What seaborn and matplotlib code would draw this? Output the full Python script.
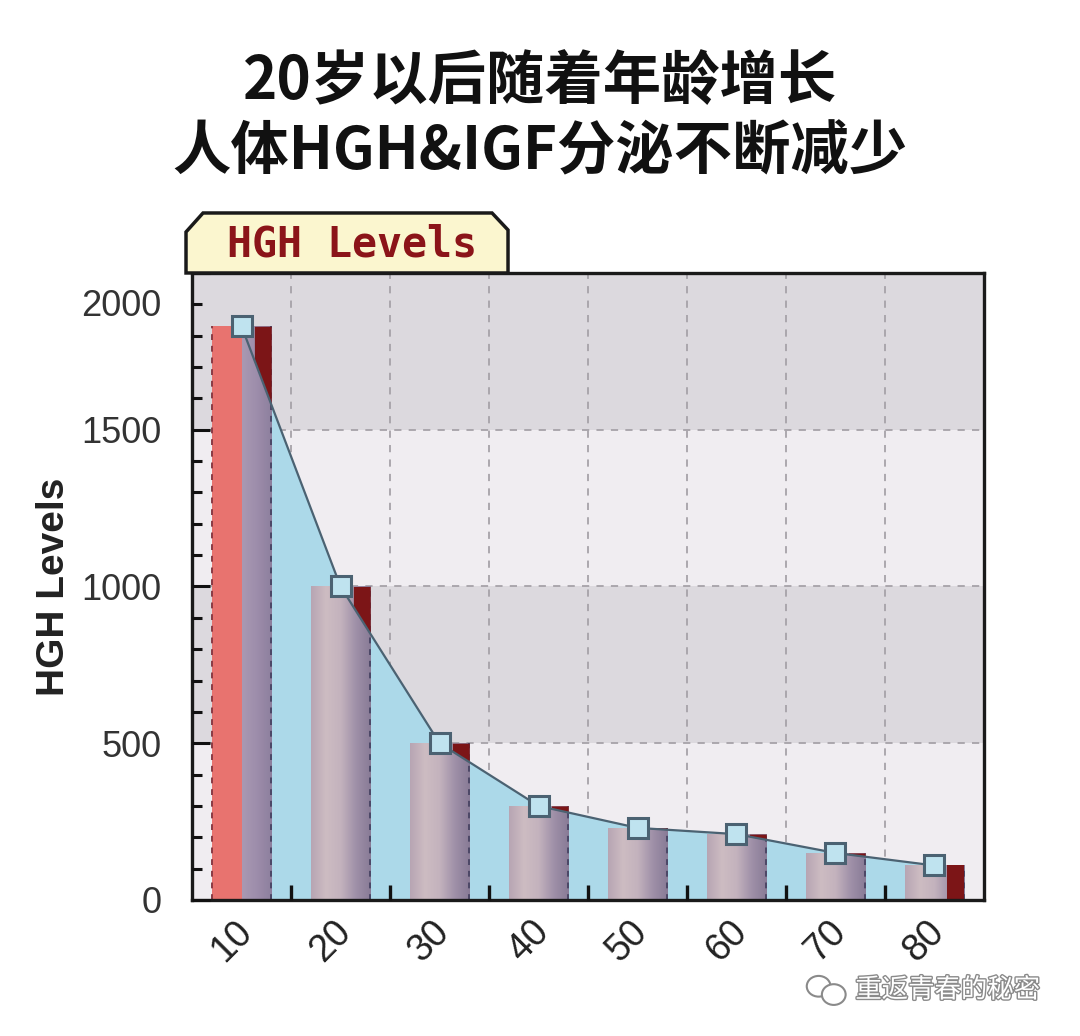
import numpy as np
import matplotlib
matplotlib.use("Agg")
import matplotlib.pyplot as plt
import matplotlib.transforms as mtransforms
import matplotlib.patheffects as pe
from matplotlib.colors import LinearSegmentedColormap
from matplotlib.patches import Polygon, Rectangle, Ellipse
from matplotlib.ticker import MultipleLocator
import seaborn as sns

# data
ages = ['10', '20', '30', '40', '50', '60', '70', '80']
hgh = [1830, 1000, 500, 300, 230, 210, 150, 110]
young_hgh = 1830  # red bar in the age 10 group
yticks = [0, 500, 1000, 1500, 2000]

title_lines = ['20岁以后随着年龄增长', '人体HGH&IGF分泌不断减少']
tab_text = 'HGH Levels'
ylabel = 'HGH Levels'
watermark = '重返青春的秘密'

sns.set_theme(style='white')
plt.rcParams['font.family'] = ['Liberation Sans', 'DejaVu Sans']

fig = plt.figure(figsize=(10.8, 10.36), dpi=100)
ax = fig.add_axes([0.1778, 0.1313, 0.7333, 0.6052])
pos = np.arange(len(ages))

# alternating grey bands
for i, (lo, hi) in enumerate(zip(yticks[:-1], yticks[1:])):
    ax.axhspan(lo, hi, color='#dcd9de' if i % 2 else '#f0edf1', lw=0, zorder=0)

# dashed grid under everything
grid_kw = dict(colors='#a6a2a8', linestyles=(0, (4, 4)), lw=1.3, zorder=0.5)
ax.vlines(pos[:-1] + 0.5, yticks[0], yticks[-1], **grid_kw)
ax.hlines(yticks[1:-1], -0.5, len(ages) - 0.5, **grid_kw)

# light blue area under the trend line
ax.fill_between(pos, hgh, color='#acd9e9', lw=0, zorder=1)

n_before = len(ax.patches)
sns.barplot(x=ages, y=hgh, width=0.6, color='#b8a8b8', saturation=1,
            errorbar=None, edgecolor='none', zorder=2, ax=ax)
bars = ax.patches[n_before:]

# the age 10 group holds a red bar and a narrow grey one
b0 = bars[0]
half = b0.get_width() / 2
red = Rectangle((b0.get_x(), 0), half, young_hgh, facecolor='#e8736f',
                edgecolor='none', zorder=2)
ax.add_patch(red)
b0.set_x(b0.get_x() + half)
b0.set_width(half)

# cylinder-like shading on the grey bars
grad = np.linspace(0, 1, 256).reshape(1, -1)
cmap_main = LinearSegmentedColormap.from_list(
    'bar', ['#b7a5b3', '#cdbcc2', '#c3b2bd', '#9f90a8', '#887b96'])
cmap_first = LinearSegmentedColormap.from_list(
    'bar0', ['#a999b2', '#9d8dab', '#8d7f9d'])
for i, b in enumerate(bars):
    x, w, h = b.get_x(), b.get_width(), b.get_height()
    im = ax.imshow(grad, extent=[x, x + w, 0, h], aspect='auto',
                   cmap=cmap_first if i == 0 else cmap_main,
                   interpolation='bicubic', zorder=2.1)
    im.set_clip_path(b)
    ax.vlines(x + w, 0, h, colors='#4c4766', linestyles=(0, (3, 3)),
              lw=1.4, zorder=2.2)
ax.vlines(red.get_x(), 0, young_hgh, colors='#8a3a44',
          linestyles=(0, (3, 3)), lw=1.4, zorder=2.2)

# dark red back face visible above the trend line
for b in bars:
    xr = b.get_x() + b.get_width()
    xs = np.linspace(xr - 0.17, xr, 40)
    low = np.interp(xs, pos, hgh, right=0)
    top = np.full_like(xs, b.get_height())
    ax.fill_between(xs, low, top, where=top > low, color='#7c1517',
                    lw=0, zorder=2.3, interpolate=True)

sns.lineplot(x=pos, y=hgh, ax=ax, color='#4b6272', lw=1.6, marker='s',
             markersize=15, markerfacecolor='#bfe3ef',
             markeredgecolor='#4b6272', markeredgewidth=2.2, zorder=5)

ax.set_xlim(-0.5, len(ages) - 0.5)
ax.set_ylim(yticks[0], yticks[-1])
ax.set_axisbelow(False)

ax.set_xticks(pos)
ax.set_xticklabels(ages, rotation=45, fontsize=27, color='#222222')
ax.set_xticks(pos[:-1] + 0.5, minor=True)
ax.tick_params(axis='x', which='major', bottom=True, length=0, pad=10)
ax.tick_params(axis='x', which='minor', bottom=True, direction='in',
               length=11, width=2.4, color='#111111')
ax.set_yticks(yticks)
ax.set_yticklabels([str(v) for v in yticks], fontsize=26, color='#333333')
ax.yaxis.set_minor_locator(MultipleLocator(100))
ax.tick_params(axis='y', which='major', left=True, direction='in',
               length=13, width=2.2, color='#111111', pad=22)
ax.tick_params(axis='y', which='minor', left=True, direction='in',
               length=7.5, width=2.2, color='#111111')
ax.set_xlabel('')
for sp in ax.spines.values():
    sp.set_visible(True)
    sp.set_color('#1a1a1a')
    sp.set_linewidth(2.4)

ax.set_ylabel(ylabel, fontsize=28, fontweight='bold', color='#222222',
              family=['Liberation Sans Narrow', 'Liberation Sans'])
ax.yaxis.set_label_coords(-0.152, 0.5)

fig.canvas.draw()
shift_x = mtransforms.ScaledTranslation(-10 / 100, 0, fig.dpi_scale_trans)
for lab in ax.get_xticklabels():
    lab.set_transform(lab.get_transform() + shift_x)
shift_top = mtransforms.ScaledTranslation(0, -30 / 100, fig.dpi_scale_trans)
top_lab = ax.get_yticklabels()[-1]
top_lab.set_transform(top_lab.get_transform() + shift_top)

# tab label above the plot
tab = Polygon([(-0.0076, 1.0), (-0.0076, 1.0654), (0.0139, 1.0957),
               (0.3788, 1.0957), (0.399, 1.0686), (0.399, 1.0)],
              closed=True, transform=ax.transAxes, clip_on=False,
              facecolor='#fbf6cf', edgecolor='#1a1a1a', lw=2.5, zorder=6)
ax.add_patch(tab)
ax.text(0.202, 1.046, tab_text, transform=ax.transAxes, ha='center',
        va='center', fontsize=30, fontweight='bold', color='#8b1419',
        family=['DejaVu Sans Mono'], zorder=7)

# two-line title
for y, line in zip([1 - 82 / 1036, 1 - 152 / 1036], title_lines):
    fig.text(0.5, y, line, ha='center', va='center', fontsize=42,
             fontweight='bold', color='#111111',
             family=['Noto Sans CJK SC', 'DejaVu Sans'])

# watermark
fig.text(0.792, 1 - 990 / 1036, watermark, ha='left', va='center',
         fontsize=19, color='white', family=['Noto Sans CJK SC'],
         path_effects=[pe.withStroke(linewidth=2, foreground='#8a8a8a')])
for cx, cy, w, h in [(0.758, 0.048, 0.022, 0.020), (0.772, 0.040, 0.022, 0.020)]:
    fig.add_artist(Ellipse((cx, cy), w, h, transform=fig.transFigure,
                           facecolor='white', edgecolor='#8a8a8a', lw=1.5))

fig.savefig('out.png', dpi=100)
